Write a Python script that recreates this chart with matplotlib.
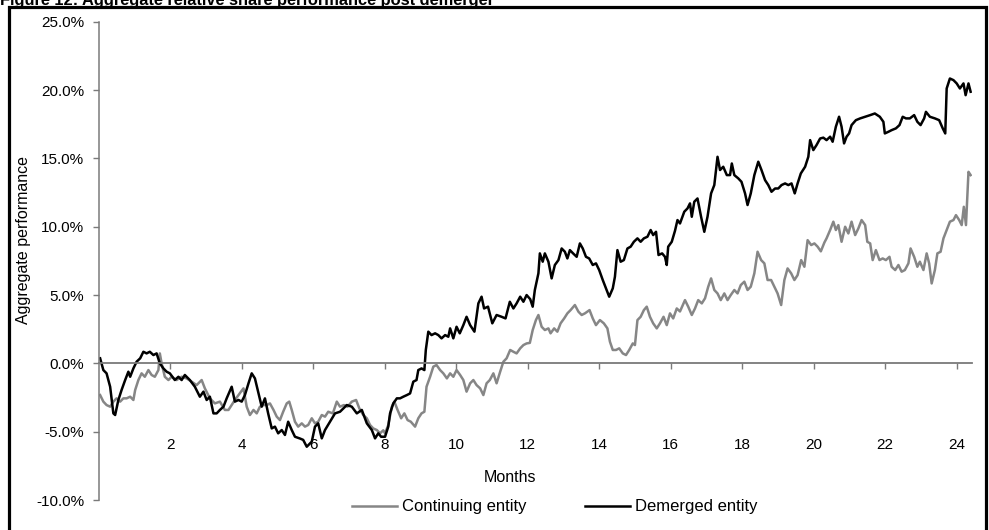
import matplotlib
matplotlib.use("Agg")
import matplotlib.pyplot as plt
import matplotlib.patches as patches

plt.rcParams['font.family'] = ['Liberation Sans', 'DejaVu Sans']

title = "Figure 12: Aggregate relative share performance post demerger"
x_label = "Months"
y_label = "Aggregate performance"
series_names = ["Continuing entity", "Demerged entity"]

x_ticks = [2, 4, 6, 8, 10, 12, 14, 16, 18, 20, 22, 24]
y_ticks = [-10, -5, 0, 5, 10, 15, 20, 25]

# Demerged entity (black): months since demerger, % performance
dem_months = [0.04, 0.13, 0.22, 0.32, 0.41, 0.46, 0.55, 0.64, 0.74, 0.83, 0.88, 0.97, 1.06, 1.16,
              1.25, 1.34, 1.43, 1.53, 1.62, 1.71, 1.81, 1.90, 1.99, 2.13, 2.23, 2.32, 2.41, 2.55,
              2.69, 2.83, 2.93, 3.02, 3.11, 3.21, 3.30, 3.39, 3.49, 3.58, 3.72, 3.81, 3.91, 4.00,
              4.09, 4.19, 4.28, 4.37, 4.47, 4.56, 4.65, 4.74, 4.84, 4.93, 5.02, 5.12, 5.21, 5.30,
              5.40, 5.49, 5.63, 5.72, 5.82, 5.96, 6.05, 6.14, 6.24, 6.33, 6.47, 6.61, 6.75, 6.94,
              7.08, 7.22, 7.36, 7.50, 7.64, 7.73, 7.82, 7.90, 8.01, 8.10, 8.15, 8.24, 8.34, 8.43,
              8.52, 8.62, 8.71, 8.80, 8.89, 8.94, 9.03, 9.11, 9.15, 9.22, 9.31, 9.41, 9.50, 9.59,
              9.69, 9.78, 9.83, 9.92, 10.01, 10.10, 10.20, 10.29, 10.39, 10.51, 10.62, 10.71, 10.78,
              10.89, 11.01, 11.13, 11.27, 11.38, 11.50, 11.60, 11.69, 11.79, 11.88, 11.97, 12.07,
              12.14, 12.20, 12.30, 12.34, 12.42, 12.48, 12.58, 12.67, 12.76, 12.86, 12.95, 13.04,
              13.11, 13.18, 13.27, 13.37, 13.46, 13.54, 13.63, 13.72, 13.82, 13.91, 14.00, 14.10,
              14.19, 14.28, 14.38, 14.44, 14.51, 14.60, 14.69, 14.79, 14.88, 14.97, 15.07, 15.16,
              15.25, 15.35, 15.44, 15.51, 15.59, 15.66, 15.76, 15.84, 15.89, 15.93, 16.03, 16.12,
              16.19, 16.26, 16.38, 16.47, 16.54, 16.59, 16.66, 16.75, 16.85, 16.94, 17.03, 17.13,
              17.22, 17.31, 17.38, 17.47, 17.57, 17.66, 17.71, 17.78, 17.89, 17.98, 18.08, 18.15,
              18.24, 18.34, 18.45, 18.54, 18.64, 18.73, 18.82, 18.92, 19.01, 19.10, 19.20, 19.29,
              19.38, 19.47, 19.55, 19.64, 19.76, 19.85, 19.90, 19.99, 20.08, 20.18, 20.27, 20.36,
              20.46, 20.53, 20.62, 20.71, 20.78, 20.85, 20.92, 20.99, 21.06, 21.18, 21.30, 21.44,
              21.58, 21.71, 21.85, 21.95, 21.99, 22.09, 22.18, 22.30, 22.40, 22.49, 22.58, 22.69,
              22.81, 22.90, 22.99, 23.09, 23.14, 23.25, 23.39, 23.51, 23.61, 23.68, 23.72, 23.81,
              23.91, 24.00, 24.09, 24.19, 24.25, 24.33, 24.39]
dem_pct = [0.37, -0.49, -0.73, -1.71, -3.66, -3.78, -2.68, -1.95, -1.22, -0.61, -0.98, -0.37, 0.12, 0.37,
           0.85, 0.73, 0.85, 0.61, 0.73, 0.00, -0.37, -0.61, -0.73, -1.22, -0.98, -1.22, -0.85, -1.22,
           -1.71, -2.44, -2.07, -2.68, -2.44, -3.66, -3.66, -3.41, -3.17, -2.56, -1.71, -2.80, -2.68, -2.80,
           -2.32, -1.46, -0.73, -1.10, -2.20, -3.17, -2.56, -3.66, -4.76, -4.63, -5.12, -4.88, -5.24, -4.27,
           -4.88, -5.37, -5.50, -5.60, -6.10, -5.73, -4.63, -4.39, -5.49, -4.88, -4.27, -3.66, -3.54, -3.05,
           -3.17, -3.66, -3.41, -4.39, -4.88, -5.49, -5.12, -5.37, -5.37, -4.63, -3.66, -2.93, -2.56, -2.56,
           -2.44, -2.32, -2.20, -1.34, -1.22, -0.49, -0.37, -0.49, 0.98, 2.32, 2.07, 2.20, 2.07, 1.83,
           2.07, 1.95, 2.56, 1.83, 2.68, 2.20, 2.80, 3.41, 2.80, 2.32, 4.39, 4.88, 4.02,
           4.15, 2.93, 3.54, 3.41, 3.29, 4.51, 4.02, 4.39, 4.88, 4.51, 5.00, 4.70,
           4.15, 5.37, 6.59, 8.05, 7.44, 8.05, 7.44, 6.22, 7.20, 7.56, 8.41, 8.17,
           7.68, 8.29, 8.05, 7.80, 8.78, 8.41, 7.80, 7.68, 7.20, 7.32, 6.83, 6.10,
           5.49, 4.88, 5.49, 6.34, 8.29, 7.44, 7.56, 8.41, 8.54, 8.90, 9.15, 8.90,
           9.15, 9.27, 9.76, 9.39, 9.63, 7.93, 8.05, 7.80, 7.20, 8.54, 8.90, 9.70,
           10.49, 10.24, 11.10, 11.34, 11.71, 10.73, 11.83, 12.07, 10.73, 9.63, 10.73, 12.44,
           13.05, 15.12, 14.15, 14.39, 13.78, 13.78, 14.63, 13.78, 13.54, 13.29, 12.44, 11.59,
           12.44, 13.78, 14.76, 14.15, 13.41, 13.05, 12.56, 12.80, 12.80, 13.05, 13.17, 13.05,
           13.17, 12.44, 13.17, 13.90, 14.39, 15.12, 16.34, 15.61, 15.98, 16.46, 16.52, 16.34,
           16.59, 16.22, 17.32, 18.05, 17.32, 16.10, 16.59, 16.83, 17.44, 17.80, 17.93, 18.05,
           18.17, 18.29, 18.05, 17.68, 16.83, 16.95, 17.07, 17.20, 17.44, 18.05, 17.93, 17.93,
           18.17, 17.68, 17.44, 17.93, 18.41, 18.05, 17.93, 17.80, 17.20, 16.83, 20.12, 20.85,
           20.73, 20.49, 20.12, 20.49, 19.63, 20.49, 19.88]

# Continuing entity (grey)
cont_months = [0.04, 0.13, 0.22, 0.32, 0.41, 0.50, 0.60, 0.69, 0.78, 0.88, 0.97, 1.02, 1.11, 1.20,
               1.29, 1.39, 1.48, 1.57, 1.67, 1.71, 1.76, 1.85, 1.95, 2.04, 2.18, 2.32, 2.46, 2.60,
               2.74, 2.88, 2.97, 3.11, 3.25, 3.39, 3.53, 3.63, 3.72, 3.81, 3.91, 4.00, 4.05, 4.14,
               4.23, 4.33, 4.42, 4.51, 4.61, 4.70, 4.79, 4.89, 4.98, 5.07, 5.16, 5.26, 5.33, 5.40,
               5.49, 5.58, 5.68, 5.77, 5.86, 5.96, 6.05, 6.14, 6.24, 6.33, 6.42, 6.55, 6.66, 6.75,
               6.86, 6.96, 7.08, 7.20, 7.29, 7.40, 7.50, 7.59, 7.68, 7.78, 7.87, 7.96, 8.01, 8.10,
               8.20, 8.27, 8.36, 8.46, 8.55, 8.64, 8.73, 8.85, 8.94, 9.03, 9.11, 9.17, 9.27, 9.36,
               9.45, 9.55, 9.64, 9.74, 9.83, 9.92, 10.01, 10.11, 10.20, 10.29, 10.39, 10.48, 10.57,
               10.67, 10.76, 10.85, 10.94, 11.04, 11.13, 11.23, 11.32, 11.41, 11.51, 11.60, 11.69,
               11.79, 11.88, 11.97, 12.06, 12.14, 12.23, 12.30, 12.39, 12.48, 12.58, 12.64, 12.74,
               12.83, 12.92, 13.02, 13.11, 13.20, 13.32, 13.42, 13.51, 13.60, 13.73, 13.82, 13.91,
               14.02, 14.13, 14.23, 14.30, 14.38, 14.47, 14.56, 14.66, 14.75, 14.84, 14.94, 15.00,
               15.07, 15.16, 15.25, 15.33, 15.42, 15.51, 15.61, 15.70, 15.80, 15.89, 15.98, 16.07,
               16.17, 16.26, 16.40, 16.49, 16.59, 16.68, 16.77, 16.87, 16.96, 17.05, 17.13, 17.22,
               17.31, 17.40, 17.50, 17.59, 17.68, 17.78, 17.87, 17.96, 18.06, 18.15, 18.24, 18.34,
               18.43, 18.53, 18.62, 18.71, 18.81, 18.90, 18.99, 19.09, 19.18, 19.27, 19.37, 19.46,
               19.55, 19.65, 19.74, 19.83, 19.93, 20.02, 20.11, 20.20, 20.30, 20.36, 20.46, 20.55,
               20.62, 20.69, 20.78, 20.88, 20.97, 21.06, 21.16, 21.25, 21.34, 21.44, 21.50, 21.58,
               21.65, 21.74, 21.84, 21.93, 22.02, 22.12, 22.18, 22.28, 22.37, 22.46, 22.55, 22.65,
               22.71, 22.81, 22.90, 22.97, 23.07, 23.16, 23.23, 23.30, 23.39, 23.46, 23.55, 23.63,
               23.72, 23.81, 23.91, 23.98, 24.07, 24.14, 24.20, 24.26, 24.33, 24.39]
cont_pct = [-2.32, -2.80, -3.05, -3.17, -2.80, -2.56, -2.80, -2.56, -2.56, -2.44, -2.68, -1.95, -1.22, -0.73,
            -0.98, -0.49, -0.85, -0.98, -0.49, 0.73, 0.00, -0.98, -1.22, -0.98, -1.22, -0.98, -1.10, -1.34,
            -1.59, -1.22, -1.83, -2.56, -2.93, -2.80, -3.41, -3.41, -3.05, -2.68, -2.32, -2.00, -1.83, -3.17,
            -3.78, -3.41, -3.66, -3.17, -3.05, -3.05, -2.93, -3.41, -3.90, -4.15, -3.54, -2.93, -2.80, -3.41,
            -4.27, -4.63, -4.39, -4.63, -4.51, -4.02, -4.39, -4.27, -3.78, -3.90, -3.54, -3.66, -2.80, -3.17,
            -3.05, -3.17, -2.80, -2.68, -3.29, -3.78, -4.02, -4.51, -4.76, -4.88, -5.12, -4.90, -5.12, -4.51,
            -3.17, -2.80, -3.41, -4.02, -3.66, -4.15, -4.27, -4.63, -4.02, -3.66, -3.54, -1.71, -0.98, -0.24,
            -0.12, -0.49, -0.73, -1.10, -0.73, -0.98, -0.49, -0.85, -1.22, -2.07, -1.46, -1.22, -1.59,
            -1.83, -2.32, -1.46, -1.22, -0.73, -1.46, -0.61, 0.12, 0.37, 0.98, 0.85, 0.73,
            1.10, 1.34, 1.46, 1.50, 2.44, 3.17, 3.54, 2.68, 2.44, 2.56, 2.20, 2.56,
            2.32, 2.93, 3.29, 3.66, 3.90, 4.27, 3.78, 3.54, 3.66, 3.90, 3.29, 2.80,
            3.17, 2.93, 2.56, 1.59, 0.98, 0.98, 1.10, 0.73, 0.61, 0.98, 1.46, 1.34,
            3.17, 3.41, 3.90, 4.15, 3.41, 2.93, 2.56, 2.93, 3.41, 2.80, 3.66, 3.29,
            4.02, 3.80, 4.63, 4.15, 3.54, 4.02, 4.63, 4.39, 4.76, 5.61, 6.22, 5.37,
            5.12, 4.63, 5.12, 4.63, 5.00, 5.37, 5.12, 5.73, 5.98, 5.37, 5.61, 6.59,
            8.17, 7.56, 7.32, 6.10, 6.10, 5.61, 5.12, 4.27, 6.10, 6.95, 6.59, 6.10,
            6.46, 7.56, 7.07, 9.02, 8.66, 8.78, 8.54, 8.20, 8.85, 9.15, 9.76, 10.37,
            9.76, 10.12, 8.90, 10.00, 9.51, 10.37, 9.39, 9.88, 10.49, 10.12, 8.90, 8.78,
            7.56, 8.29, 7.56, 7.68, 7.56, 7.80, 7.07, 6.83, 7.20, 6.71, 6.83, 7.32,
            8.41, 7.80, 7.07, 7.44, 6.83, 8.05, 7.32, 5.85, 6.83, 8.05, 8.17, 9.15,
            9.76, 10.37, 10.49, 10.85, 10.49, 10.12, 11.46, 10.12, 14.02, 13.78]

W, H = 989, 530
fig = plt.figure(figsize=(W / 100, H / 100), dpi=100)

# axes box placed in pixels from the reference
left, right, top, bottom = 98.7, 971.7, 21.8, 500.0
ax = fig.add_axes([left / W, 1 - bottom / H, (right - left) / W, (bottom - top) / H])

grey = '#868686'
axis_grey = '#7a7a7a'
ax.plot(cont_months, cont_pct, color=grey, linewidth=1.8, label=series_names[0])
ax.plot(dem_months, dem_pct, color='black', linewidth=1.8, label=series_names[1])

ax.set_xlim(0, 24.42)
ax.set_ylim(-10, 25)

# zero line acts as the x axis, labels sit lower down
for side in ['top', 'right']:
    ax.spines[side].set_visible(False)
ax.spines['bottom'].set_position(('data', 0))
ax.spines['bottom'].set_color(axis_grey)
ax.spines['bottom'].set_linewidth(1.3)
ax.spines['left'].set_color(axis_grey)
ax.spines['left'].set_linewidth(1.1)

ax.set_xticks(x_ticks)
ax.set_xticklabels([str(t) for t in x_ticks])
ax.tick_params(axis='x', direction='out', length=4.5, width=1, color=axis_grey,
               pad=49, labelsize=11)
ax.set_yticks(y_ticks)
ax.set_yticklabels([f"{t:.1f}%" for t in y_ticks])
ax.tick_params(axis='y', direction='out', length=4.5, width=1, color=axis_grey,
               pad=6, labelsize=11)

fig.text(510 / W, 1 - 478 / H, x_label, ha='center', va='center', fontsize=11.5)
fig.text(24 / W, 1 - 240 / H, y_label, ha='center', va='center', rotation=90, fontsize=11.5)

handles, labels = ax.get_legend_handles_labels()
fig.legend(handles, labels, loc='center', bbox_to_anchor=(555 / W, 1 - 507 / H), ncol=2,
           frameon=False, fontsize=12, handlelength=2.7, handletextpad=0.3, columnspacing=3.5)

# title partly cut off at top, as in the source
fig.text(0.0, 1 - 4.5 / H, title, ha='left', va='baseline', fontsize=11.8, fontweight='bold')

# outer frame
frame = patches.Rectangle((9 / W, -0.02), 977 / W, 1.02 - 6.5 / H, transform=fig.transFigure,
                          fill=False, edgecolor='black', linewidth=2.3)
fig.patches.append(frame)

fig.savefig('out.png', dpi=100)
